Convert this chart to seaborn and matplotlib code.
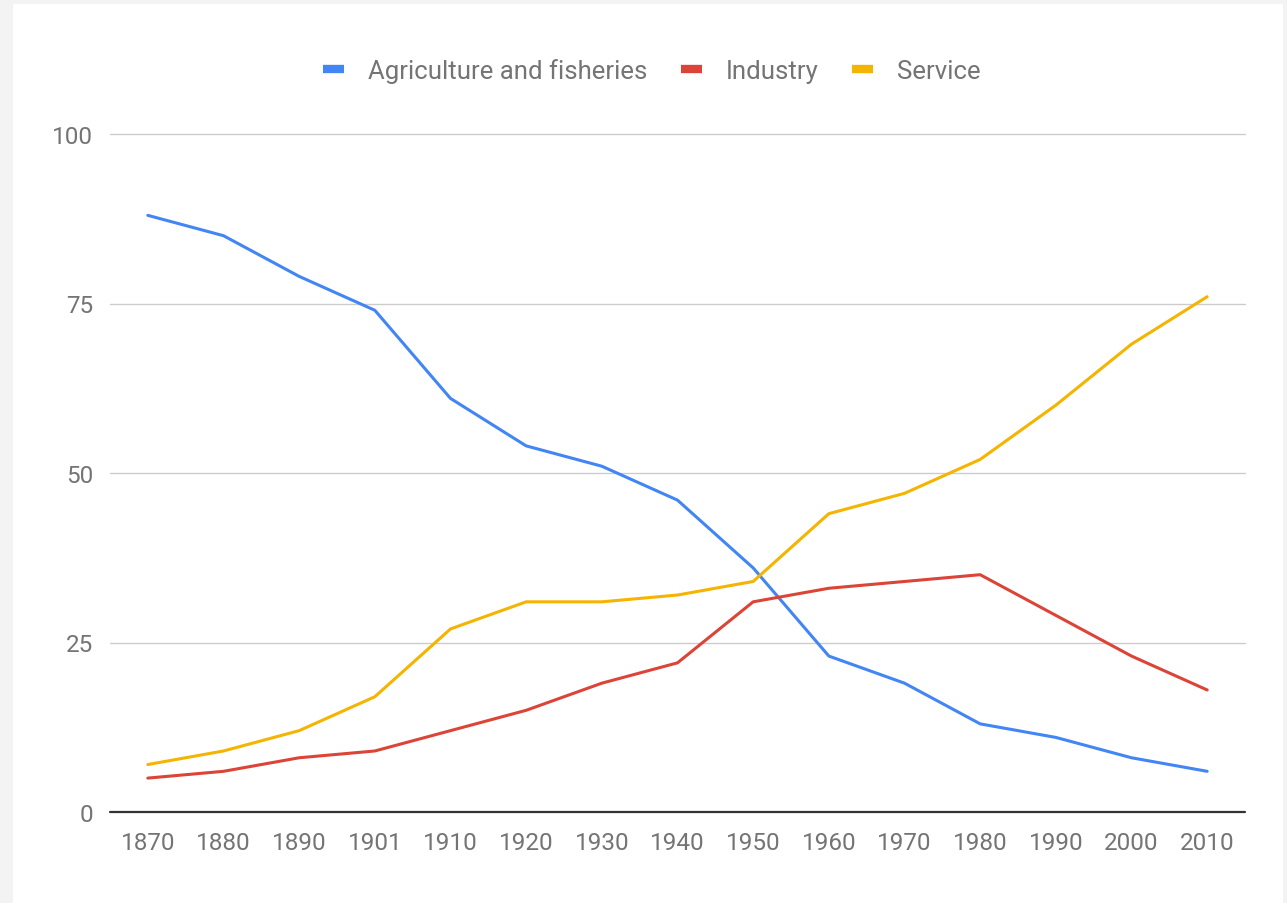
import matplotlib
matplotlib.use("Agg")
import matplotlib.pyplot as plt
from matplotlib.patches import Rectangle
from matplotlib.lines import Line2D
import seaborn as sns
import pandas as pd

years = ["1870", "1880", "1890", "1901", "1910", "1920", "1930", "1940",
         "1950", "1960", "1970", "1980", "1990", "2000", "2010"]
agriculture = [88, 85, 79, 74, 61, 54, 51, 46, 36, 23, 19, 13, 11, 8, 6]
industry = [5, 6, 8, 9, 12, 15, 19, 22, 31, 33, 34, 35, 29, 23, 18]
service = [7, 9, 12, 17, 27, 31, 31, 32, 34, 44, 47, 52, 60, 69, 76]
series_names = ["Agriculture and fisheries", "Industry", "Service"]
colors = ["#4285F4", "#DB4437", "#F4B400"]
y_ticks = [0, 25, 50, 75, 100]

df = pd.concat([
    pd.DataFrame({"year": years, "value": vals, "sector": name})
    for name, vals in zip(series_names, [agriculture, industry, service])
])

sns.set_theme(style="white")
plt.rcParams["font.family"] = ["Roboto", "DejaVu Sans"]

fig = plt.figure(figsize=(12.87, 9.04), dpi=100)
fig.patch.set_facecolor("#f3f3f3")
bg = Rectangle((13 / 1287, 0), (1283 - 13) / 1287, 1 - 5 / 904,
               transform=fig.transFigure, facecolor="white",
               edgecolor="none", zorder=-10)
fig.patches.append(bg)

ax = fig.add_axes([110 / 1287, 1 - 813 / 904, (1245 - 110) / 1287, (813 - 135) / 904])
ax.set_zorder(1)
ax.set_facecolor("none")

sns.lineplot(data=df, x="year", y="value", hue="sector", palette=colors,
             hue_order=series_names, linewidth=2.2, ax=ax, legend=False,
             sort=False)

ax.set_xlim(-0.5, len(years) - 0.5)
ax.set_ylim(0, 100)
ax.set_yticks(y_ticks)
ax.set_yticklabels([str(t) for t in y_ticks])
for t in y_ticks:
    if t == 0:
        ax.axhline(t, color="#333333", linewidth=1.6, zorder=3, clip_on=False)
    else:
        ax.axhline(t, color="#cccccc", linewidth=1.0, zorder=0, clip_on=False)

for s in ax.spines.values():
    s.set_visible(False)
ax.tick_params(axis="both", length=0, labelsize=17.5, labelcolor="#747474")
ax.tick_params(axis="y", pad=12)
ax.tick_params(axis="x", pad=14)
ax.set_xlabel("")
ax.set_ylabel("")

handles = [Line2D([0], [0], color=c, linewidth=6, solid_capstyle="butt") for c in colors]
leg = fig.legend(handles, series_names, loc="center", ncol=3,
                 bbox_to_anchor=(652 / 1287, 1 - 72 / 904), frameon=False,
                 fontsize=18.5, handlelength=0.8, handletextpad=0.95,
                 columnspacing=1.3, labelcolor="#747474")

fig.savefig("out.png", dpi=100, facecolor=fig.get_facecolor())
